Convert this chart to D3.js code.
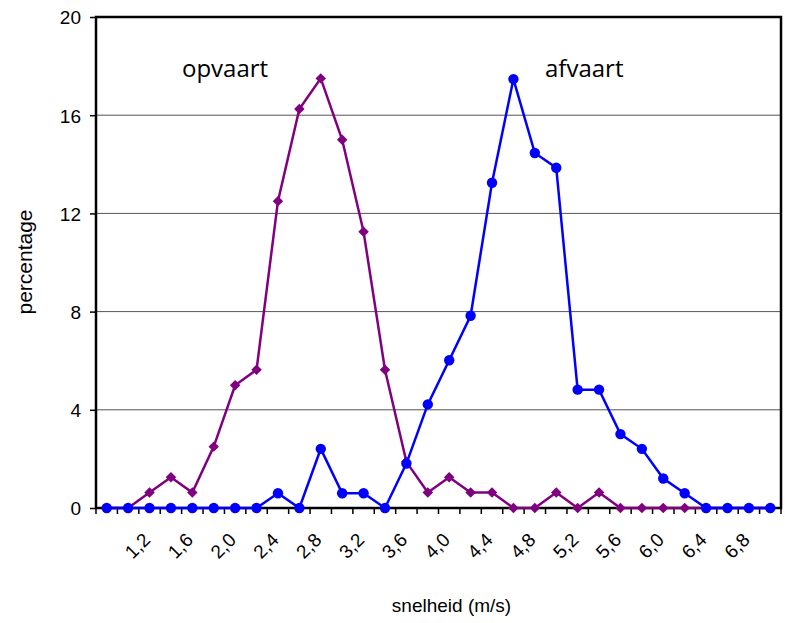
<!DOCTYPE html>
<html>
<head>
<meta charset="utf-8">
<title>snelheid opvaart / afvaart</title>
<script src="https://d3js.org/d3.v7.min.js"></script>
<style>
	body { margin: 0; background: white; }
	#plot { width: 785px; height: 623px; }
	.axis text { font-family: "Liberation Sans", Arial, sans-serif; font-size: 19px; fill: black; }
	.axis path { display: none; }
</style>
</head>
<body>
<div id="plot"></div>
<script>
	// categories: speed in m/s (comma decimal)
	var categories = ['0,8','1,0','1,2','1,4','1,6','1,8','2,0','2,2','2,4','2,6','2,8','3,0','3,2','3,4','3,6','3,8',
		'4,0','4,2','4,4','4,6','4,8','5,0','5,2','5,4','5,6','5,8','6,0','6,2','6,4','6,6','6,8','7,0']
	var xLabels = ['1,2','1,6','2,0','2,4','2,8','3,2','3,6','4,0','4,4','4,8','5,2','5,6','6,0','6,4','6,8']
	var yTicks = [0, 4, 8, 12, 16, 20]

	var opvaart = [0, 0, 0.63, 1.25, 0.63, 2.5, 5.0, 5.63, 12.5, 16.25, 17.5, 15.0, 11.25, 5.63, 1.88, 0.63,
		1.25, 0.63, 0.63, 0, 0, 0.63, 0, 0.63, 0, 0, 0, 0, 0, 0, 0, 0]
	var afvaart = [0, 0, 0, 0, 0, 0, 0, 0, 0.6, 0, 2.41, 0.6, 0.6, 0, 1.81, 4.22,
		6.02, 7.83, 13.25, 17.47, 14.46, 13.86, 4.82, 4.82, 3.01, 2.41, 1.2, 0.6, 0, 0, 0, 0]

	var margin = {top: 17, bottom: 115, left: 96, right: 4}
	var width = 785 - margin.left - margin.right
	var height = 623 - margin.top - margin.bottom

	var svg = d3.select('#plot').append('svg')
			.attr('width', 785)
			.attr('height', 623)
		.append('g')
			.attr('transform', 'translate(' + margin.left + ',' + margin.top + ')')

	var x = d3.scaleBand().domain(categories).range([0, width]).padding(0)
	var y = d3.scaleLinear().domain([0, 20]).range([height, 0])
	var cx = function(i) { return x(categories[i]) + x.bandwidth() / 2 }

	// gridlines
	svg.selectAll('.grid')
		.data(yTicks.filter(function(d) { return d > 0 && d < 20 }))
		.enter().append('line')
			.attr('class', 'grid')
			.attr('x1', 0).attr('x2', width)
			.attr('y1', function(d) { return y(d) }).attr('y2', function(d) { return y(d) })
			.attr('stroke', '#555').attr('stroke-width', 1)

	// y axis
	var yAxis = svg.append('g')
		.attr('class', 'axis')
		.call(d3.axisLeft(y).tickValues(yTicks).tickSize(6).tickPadding(9))
	yAxis.selectAll('line').attr('stroke', 'black').attr('stroke-width', 1.5)
	yAxis.selectAll('text').attr('dy', '0.36em')

	// x ticks at category boundaries
	var bounds = categories.map(function(c) { return x(c) }).concat([width])
	svg.selectAll('.xtick')
		.data(bounds)
		.enter().append('line')
			.attr('class', 'xtick')
			.attr('x1', function(d) { return d }).attr('x2', function(d) { return d })
			.attr('y1', height).attr('y2', height + 6)
			.attr('stroke', 'black').attr('stroke-width', 1.5)

	svg.append('g').attr('class', 'axis')
		.selectAll('text')
		.data(xLabels)
		.enter().append('text')
			.attr('text-anchor', 'end')
			.attr('transform', function(d) {
				return 'translate(' + (x(d) + x.bandwidth() / 2 + 2) + ',' + (height + 33) + ') rotate(-45)'
			})
			.text(function(d) { return d })

	// plot border
	svg.append('rect')
		.attr('width', width).attr('height', height)
		.attr('fill', 'none').attr('stroke', 'black').attr('stroke-width', 2.5)

	var line = d3.line()
		.x(function(d, i) { return cx(i) })
		.y(function(d) { return y(d) })

	// opvaart
	svg.append('path').datum(opvaart)
		.attr('d', line).attr('fill', 'none')
		.attr('stroke', '#800080').attr('stroke-width', 2.5)
	svg.selectAll('.diamond')
		.data(opvaart)
		.enter().append('path')
			.attr('class', 'diamond')
			.attr('d', d3.symbol().type(d3.symbolDiamond2).size(70))
			.attr('transform', function(d, i) { return 'translate(' + cx(i) + ',' + y(d) + ')' })
			.attr('fill', '#800080')

	// afvaart
	svg.append('path').datum(afvaart)
		.attr('d', line).attr('fill', 'none')
		.attr('stroke', '#0000FF').attr('stroke-width', 2.5)
	svg.selectAll('.dot')
		.data(afvaart)
		.enter().append('circle')
			.attr('class', 'dot')
			.attr('cx', function(d, i) { return cx(i) })
			.attr('cy', function(d) { return y(d) })
			.attr('r', 5.2)
			.attr('fill', '#0000FF')

	// series labels
	svg.append('text')
		.attr('x', 86).attr('y', 60)
		.style('font-family', '"Open Sans", sans-serif').style('font-size', '24px')
		.text('opvaart')
	svg.append('text')
		.attr('x', 449).attr('y', 60)
		.style('font-family', '"Open Sans", sans-serif').style('font-size', '24px')
		.text('afvaart')

	// axis titles
	d3.select('svg').append('text')
		.attr('x', margin.left + width / 2 + 13).attr('y', 612)
		.attr('text-anchor', 'middle')
		.style('font-family', '"Liberation Sans", Arial, sans-serif').style('font-size', '19px')
		.text('snelheid (m/s)')
	d3.select('svg').append('text')
		.attr('transform', 'translate(32,' + (margin.top + 245) + ') rotate(-90)')
		.attr('text-anchor', 'middle')
		.style('font-family', '"Liberation Sans", Arial, sans-serif').style('font-size', '21px')
		.text('percentage')
</script>
</body>
</html>
